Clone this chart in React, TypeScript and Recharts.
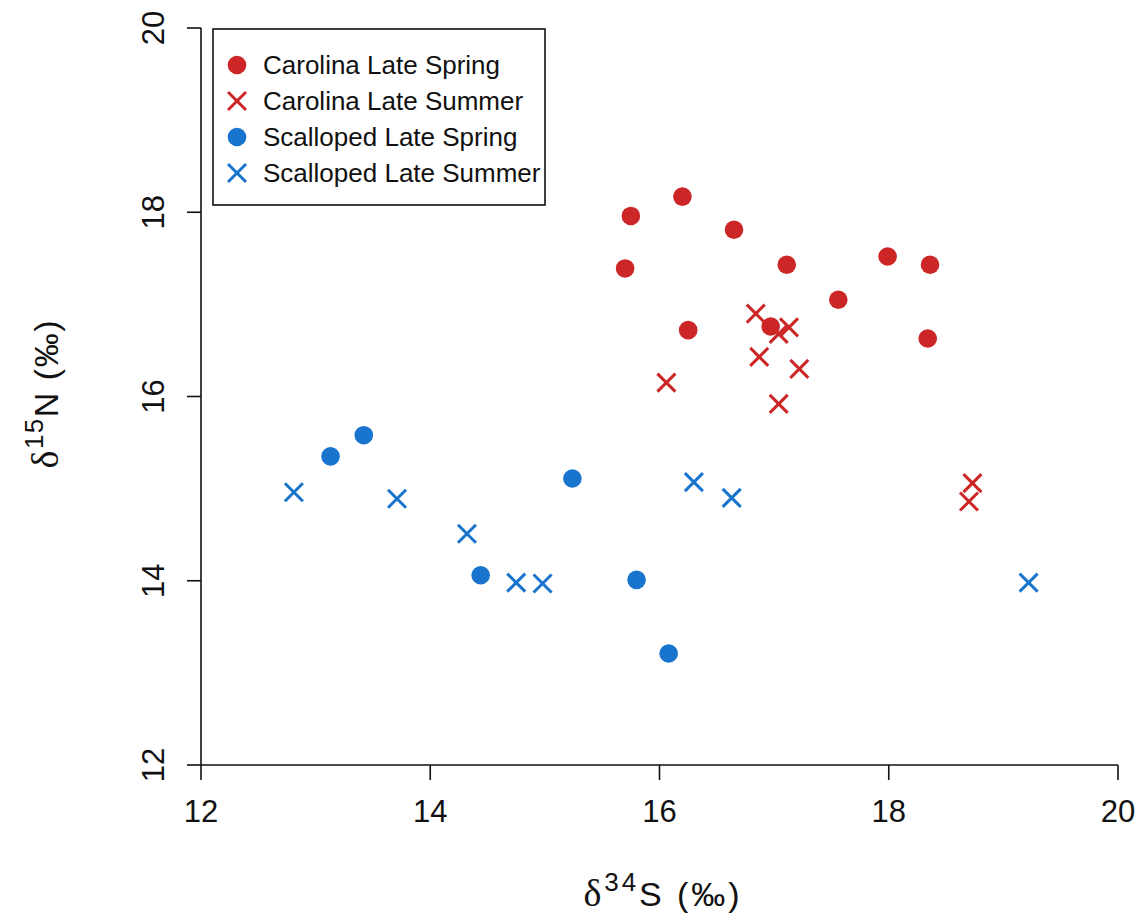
import React from "react";
import { ScatterChart, Scatter, XAxis, YAxis, Legend, Label } from "recharts";

// ---- data ----
const xTicks = [12, 14, 16, 18, 20];
const yTicks = [12, 14, 16, 18, 20];

const carolinaSpringX = [16.2, 15.75, 16.65, 15.7, 17.11, 17.99, 18.36, 17.56, 16.25, 16.97, 18.34];
const carolinaSpringY = [18.17, 17.96, 17.81, 17.39, 17.43, 17.52, 17.43, 17.05, 16.72, 16.76, 16.63];

const carolinaSummerX = [16.84, 17.13, 17.04, 16.87, 17.22, 16.06, 17.04, 18.73, 18.7];
const carolinaSummerY = [16.9, 16.75, 16.68, 16.43, 16.3, 16.15, 15.92, 15.06, 14.86];

const scallopedSpringX = [13.42, 13.13, 15.24, 14.44, 15.8, 16.08];
const scallopedSpringY = [15.58, 15.35, 15.11, 14.06, 14.01, 13.21];

const scallopedSummerX = [12.81, 13.71, 14.32, 14.75, 14.98, 16.3, 16.63, 19.22];
const scallopedSummerY = [14.96, 14.89, 14.51, 13.98, 13.97, 15.07, 14.9, 13.98];

const seriesNames = [
  "Carolina Late Spring",
  "Carolina Late Summer",
  "Scalloped Late Spring",
  "Scalloped Late Summer",
];

const RED = "#CD2626";
const BLUE = "#1874CD";
const FONT = "'Liberation Sans', Arial, sans-serif";
const SERIF = "'Liberation Serif', 'DejaVu Serif', serif";

const toPoints = (xs: number[], ys: number[]) => xs.map((x, i) => ({ x, y: ys[i] }));

const carolinaSpring = toPoints(carolinaSpringX, carolinaSpringY);
const carolinaSummer = toPoints(carolinaSummerX, carolinaSummerY);
const scallopedSpring = toPoints(scallopedSpringX, scallopedSpringY);
const scallopedSummer = toPoints(scallopedSummerX, scallopedSummerY);

const makeDot = (color: string) => (props: any) => {
  const { cx, cy } = props;
  if (cx == null || cy == null) return <g />;
  return <circle cx={cx} cy={cy} r={9.3} fill={color} />;
};

const makeCross = (color: string) => (props: any) => {
  const { cx, cy } = props;
  if (cx == null || cy == null) return <g />;
  const h = 9;
  return (
    <g stroke={color} strokeWidth={3} strokeLinecap="butt">
      <line x1={cx - h} y1={cy - h} x2={cx + h} y2={cy + h} />
      <line x1={cx - h} y1={cy + h} x2={cx + h} y2={cy - h} />
    </g>
  );
};

const XTick = (props: any) => {
  const { x, y, payload } = props;
  return (
    <text x={x} y={y} dy="0.71em" textAnchor="middle" fontFamily={FONT} fontSize={31} fill="#111">
      {payload.value}
    </text>
  );
};

const YTick = (props: any) => {
  const { x, y, payload } = props;
  return (
    <text
      x={x}
      y={y}
      textAnchor="middle"
      transform={`rotate(-90, ${x}, ${y})`}
      fontFamily={FONT}
      fontSize={31}
      fill="#111"
    >
      {payload.value}
    </text>
  );
};

const XTitle = (props: any) => {
  const vb = props.viewBox || {};
  const cx = vb.x + vb.width / 2 + 2;
  const y = 898;
  return (
    <text
      x={cx}
      y={y}
      textAnchor="middle"
      fontFamily={FONT}
      fontSize={34}
      fill="#111"
      textLength={156}
      lengthAdjust="spacing"
    >
      <tspan fontFamily={SERIF} fontSize={38}>δ</tspan>
      <tspan fontSize={26} dy={-15}>34</tspan>
      <tspan dy={15}>S (‰)</tspan>
    </text>
  );
};

const YTitle = (props: any) => {
  const vb = props.viewBox || {};
  const cy = vb.y + vb.height / 2 - 2;
  const x = 50;
  return (
    <text
      x={x}
      y={cy}
      textAnchor="middle"
      transform={`rotate(-90, ${x}, ${cy})`}
      fontFamily={FONT}
      fontSize={34}
      fill="#111"
      textLength={148}
      lengthAdjust="spacing"
    >
      <tspan fontFamily={SERIF} fontSize={38}>δ</tspan>
      <tspan fontSize={26} dy={-15}>15</tspan>
      <tspan dy={15}>N (‰)</tspan>
    </text>
  );
};

const legendItems = [
  { name: seriesNames[0], color: RED, kind: "dot" },
  { name: seriesNames[1], color: RED, kind: "cross" },
  { name: seriesNames[2], color: BLUE, kind: "dot" },
  { name: seriesNames[3], color: BLUE, kind: "cross" },
];

const LegendBox = () => (
  <svg width={334} height={178} style={{ display: "block" }}>
    <rect x={1} y={1} width={332} height={176} fill="#fff" stroke="#111" strokeWidth={1.6} />
    {legendItems.map((it, i) => {
      const cy = 37 + i * 36;
      const cx = 25;
      return (
        <g key={it.name}>
          {it.kind === "dot" ? (
            <circle cx={cx} cy={cy} r={9.3} fill={it.color} />
          ) : (
            <g stroke={it.color} strokeWidth={3}>
              <line x1={cx - 9} y1={cy - 9} x2={cx + 9} y2={cy + 9} />
              <line x1={cx - 9} y1={cy + 9} x2={cx + 9} y2={cy - 9} />
            </g>
          )}
          <text x={51} y={cy} dy="0.36em" fontFamily={FONT} fontSize={26} fill="#111">
            {it.name}
          </text>
        </g>
      );
    })}
  </svg>
);

export default function App() {
  return (
    <div style={{ width: 1135, height: 912, background: "#fff" }}>
      <ScatterChart
        width={1135}
        height={912}
        margin={{ top: 20, right: 25, bottom: 0, left: 0 }}
      >
        <XAxis
          type="number"
          dataKey="x"
          domain={[12, 20]}
          ticks={xTicks}
          allowDataOverflow
          height={155}
          axisLine={{ stroke: "#111", strokeWidth: 1.6 }}
          tickLine={{ stroke: "#111", strokeWidth: 1.6 }}
          tickSize={15}
          tickMargin={20}
          tick={<XTick />}
          interval={0}
        >
          <Label content={<XTitle />} />
        </XAxis>
        <YAxis
          type="number"
          dataKey="y"
          domain={[12, 20]}
          ticks={yTicks}
          allowDataOverflow
          width={193}
          axisLine={{ stroke: "#111", strokeWidth: 1.6 }}
          tickLine={{ stroke: "#111", strokeWidth: 1.6 }}
          tickSize={14}
          tickMargin={23}
          tick={<YTick />}
          interval={0}
        >
          <Label content={<YTitle />} />
        </YAxis>
        <Legend
          layout="horizontal"
          verticalAlign="middle"
          align="center"
          content={<LegendBox />}
          wrapperStyle={{ position: "absolute", left: 204, top: 20, width: 334, height: 178 }}
        />
        <Scatter name={seriesNames[0]} data={carolinaSpring} fill={RED} shape={makeDot(RED)} isAnimationActive={false} />
        <Scatter name={seriesNames[1]} data={carolinaSummer} fill={RED} shape={makeCross(RED)} isAnimationActive={false} />
        <Scatter name={seriesNames[2]} data={scallopedSpring} fill={BLUE} shape={makeDot(BLUE)} isAnimationActive={false} />
        <Scatter name={seriesNames[3]} data={scallopedSummer} fill={BLUE} shape={makeCross(BLUE)} isAnimationActive={false} />
      </ScatterChart>
    </div>
  );
}
